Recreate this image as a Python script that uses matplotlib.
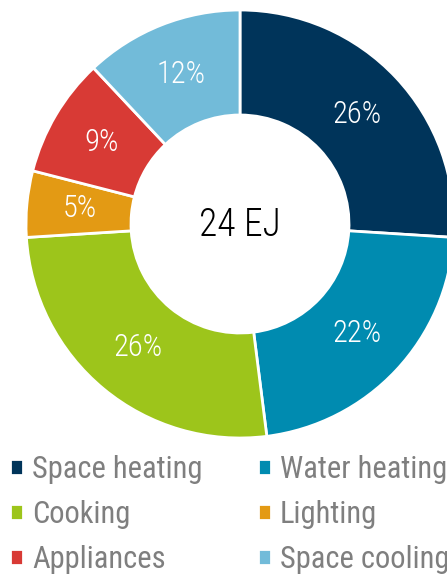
import matplotlib
matplotlib.use("Agg")
import matplotlib.pyplot as plt
from matplotlib import font_manager

# 細い condensed 系フォントを探す(なければ DejaVu Sans)
names = {f.name for f in font_manager.fontManager.ttflist}
family = 'DejaVu Sans'
for cand in ['Roboto Condensed', 'Archivo Narrow', 'Liberation Sans Narrow', 'PT Sans Narrow']:
    if cand in names:
        family = cand
        break
plt.rcParams['font.family'] = [family, 'DejaVu Sans']

labels = ['Space heating', 'Water heating', 'Cooking', 'Lighting', 'Appliances', 'Space cooling']
shares = [26, 22, 26, 5, 9, 12]
colors = ['#00345a', '#008bb0', '#9dc51b', '#e39a14', '#d83a35', '#72bbd9']
total_label = '24 EJ'

fig = plt.figure(figsize=(4.47, 5.76), dpi=100)
ax = fig.add_axes([0, 0, 1, 1])

wedges, texts, autotexts = ax.pie(
    shares,
    colors=colors,
    startangle=90,
    counterclock=False,
    center=(240, 352),
    radius=214,
    autopct='%d%%',
    pctdistance=0.75,
    wedgeprops=dict(width=105, edgecolor='white', linewidth=2),
    textprops=dict(color='white', fontsize=22, fontweight='light'),
)

# 中央のラベル
ax.text(240, 351, total_label, ha='center', va='center', fontsize=27,
        color='black', fontweight='light')

# 凡例(行ごとに並べる)
order = [0, 2, 4, 1, 3, 5]
ax.legend(
    [wedges[i] for i in order], [labels[i] for i in order],
    ncol=2,
    loc='upper left',
    bbox_to_anchor=(0.022, 0.21),
    frameon=False,
    fontsize=22,
    labelcolor='#7f7f7f',
    handlelength=0.43,
    handleheight=0.43,
    handletextpad=0.3,
    labelspacing=0.52,
    columnspacing=1.8,
    borderaxespad=0,
    borderpad=0,
)

ax.set_xlim(0, 447)
ax.set_ylim(0, 576)
ax.set_aspect('equal')
ax.axis('off')

fig.savefig('out.png', dpi=100)
